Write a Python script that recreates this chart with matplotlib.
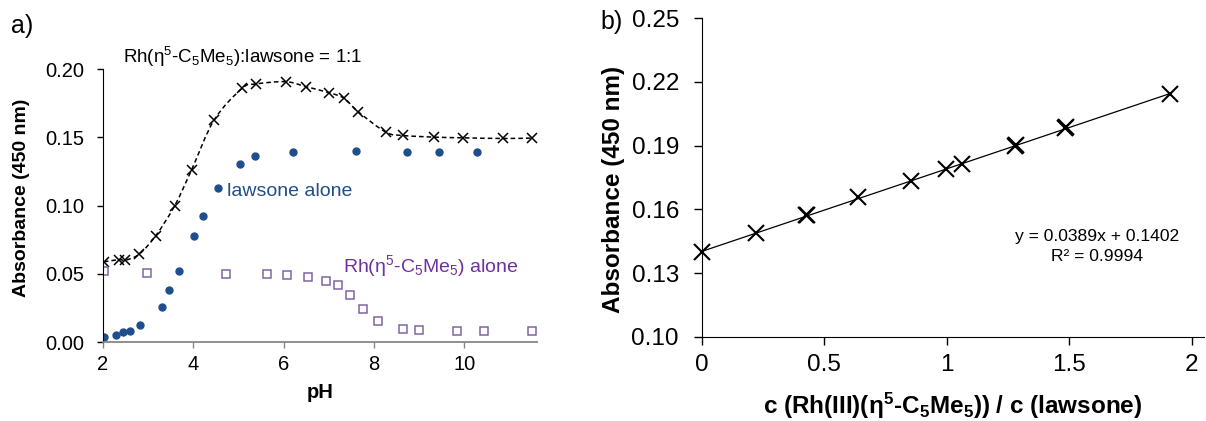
from matplotlib import pyplot as plt
from matplotlib.path import Path
from matplotlib.patches import PathPatch
import numpy as np

plt.rcParams['font.family'] = ['Liberation Sans', 'DejaVu Sans']
plt.rcParams['mathtext.fontset'] = 'custom'
plt.rcParams['mathtext.rm'] = 'Liberation Sans'
plt.rcParams['mathtext.it'] = 'Liberation Sans:italic'
plt.rcParams['mathtext.bf'] = 'Liberation Sans:bold'

# a) 1:1 混合物
ph_mix = [2.02, 2.36, 2.49, 2.80, 3.17, 3.59, 3.96, 4.46, 5.08, 5.38, 6.05,
          6.50, 7.01, 7.34, 7.65, 8.26, 8.64, 9.34, 9.97, 10.85, 11.49]
abs_mix = [0.0587, 0.0604, 0.0599, 0.0643, 0.078, 0.100, 0.126, 0.1626, 0.1858, 0.189, 0.1907,
           0.187, 0.1826, 0.1785, 0.1687, 0.1538, 0.1513, 0.1501, 0.1496, 0.1491, 0.1494]

# lawsone alone
ph_law = [2.02, 2.28, 2.45, 2.60, 2.82, 3.30, 3.47, 3.68, 4.02, 4.22, 4.54,
          5.03, 5.37, 6.21, 7.61, 8.73, 9.44, 10.28]
abs_law = [0.0039, 0.0051, 0.0071, 0.0081, 0.0127, 0.0259, 0.0379, 0.0521, 0.0775, 0.0924, 0.1125,
           0.1303, 0.1364, 0.1394, 0.1396, 0.1394, 0.1389, 0.1394]

# Rh alone
ph_rh = [2.02, 2.97, 4.72, 5.63, 6.07, 6.55, 6.94, 7.21, 7.48, 7.76, 8.10,
         8.64, 8.99, 9.83, 10.43, 11.49]
abs_rh = [0.0518, 0.0509, 0.0501, 0.0501, 0.0494, 0.0474, 0.0445, 0.0421, 0.0345, 0.0240, 0.0152,
          0.0098, 0.0090, 0.0081, 0.0078, 0.0081]

# b) 滴定
ratio = [0, 0.219, 0.425, 0.429, 0.639, 0.855, 0.998, 1.062, 1.278, 1.282, 1.484, 1.488, 1.911]
abs_ratio = [0.1401, 0.149, 0.1572, 0.1574, 0.166, 0.1733, 0.179, 0.1814, 0.1899, 0.1901, 0.1984, 0.1986, 0.2142]
slope, intercept = 0.0389, 0.1402


def smooth_path(x, y):
    # 类似 Excel 的平滑线 (Catmull-Rom -> Bezier)
    p = np.column_stack([x, y])
    verts = [p[0]]
    codes = [Path.MOVETO]
    n = len(p)
    for i in range(n - 1):
        p0 = p[i - 1] if i > 0 else p[i]
        p3 = p[i + 2] if i + 2 < n else p[i + 1]
        c1 = p[i] + (p[i + 1] - p0) / 6
        c2 = p[i + 1] - (p3 - p[i]) / 6
        verts += [c1, c2, p[i + 1]]
        codes += [Path.CURVE4] * 3
    return Path(verts, codes)


fig = plt.figure(figsize=(12.06, 4.21), dpi=100)
ax1 = fig.add_axes([0.0854, 0.1876, 0.3595, 0.6485])
ax2 = fig.add_axes([0.582, 0.2002, 0.4163, 0.7563])

# ---- a ----
ax1.add_patch(PathPatch(smooth_path(ph_mix, abs_mix), fill=False, ls=(0, (3, 2)), lw=1.1, color='black'))
ax1.plot(ph_mix, abs_mix, 'x', color='black', ms=6.8, mew=1.1)
ax1.plot(ph_law, abs_law, 'o', color='#1F4E8C', ms=5)
ax1.plot(ph_rh, abs_rh, 's', mfc='white', mec='#8064A2', ms=5.8, mew=1.1)
ax1.set_xlim(2, 11.6)
ax1.set_ylim(0, 0.2)
ax1.set_xticks([2, 4, 6, 8, 10])
ax1.set_yticks([0, 0.05, 0.10, 0.15, 0.20])
ax1.set_yticklabels(['0.00', '0.05', '0.10', '0.15', '0.20'])
ax1.set_xlabel('pH', fontsize=14.5, fontweight='bold')
ax1.set_ylabel('Absorbance (450 nm)', fontsize=14, fontweight='bold')
ax1.xaxis.set_label_coords(0.5, -0.15)
ax1.yaxis.set_label_coords(-0.168, 0.529)
ax1.spines['top'].set_visible(False)
ax1.spines['right'].set_visible(False)
ax1.spines['bottom'].set_color('#868686')
ax1.spines['bottom'].set_linewidth(1.3)
ax1.tick_params(labelsize=14.5, length=4.5, width=1)
ax1.tick_params(axis='x', color='#868686', pad=5)
ax1.tick_params(axis='y', pad=9)
ax1.text(2.44, 0.2086, r'Rh(η$^5$-C$_5$Me$_5$):lawsone = 1:1', fontsize=13.5, va='center')
ax1.text(4.75, 0.110, 'lawsone alone', fontsize=14, color='#1F4E8C', va='center')
ax1.text(7.31, 0.0559, r'Rh(η$^5$-C$_5$Me$_5$) alone', fontsize=14, color='#7030A0', va='center')
fig.text(0.009, 0.938, 'a)', fontsize=18, va='center')

# ---- b ----
xx = np.array([0, max(ratio)])
ax2.plot(xx, slope * xx + intercept, color='black', lw=0.9)
ax2.plot(ratio, abs_ratio, 'x', color='black', ms=11.5, mew=1.5, clip_on=False)
ax2.set_xlim(0, 2.05)
ax2.set_ylim(0.10, 0.25)
ax2.set_xticks([0, 0.5, 1, 1.5, 2])
ax2.set_xticklabels(['0', '0.5', '1', '1.5', '2'])
ax2.set_yticks([0.10, 0.13, 0.16, 0.19, 0.22, 0.25])
ax2.set_yticklabels(['0.10', '0.13', '0.16', '0.19', '0.22', '0.25'])
ax2.set_xlabel(r'c (Rh(III)(η$^\mathbf{5}$-C$_\mathbf{5}$Me$_\mathbf{5}$)) / c (lawsone)',
               fontsize=17.5, fontweight='bold')
ax2.set_ylabel('Absorbance (450 nm)', fontsize=17.5, fontweight='bold')
ax2.xaxis.set_label_coords(0.5, -0.17)
ax2.yaxis.set_label_coords(-0.153, 0.461)
ax2.spines['top'].set_visible(False)
ax2.spines['right'].set_visible(False)
ax2.tick_params(labelsize=17.5, length=5.5, width=1)
ax2.tick_params(axis='x', pad=7)
ax2.tick_params(axis='y', pad=11)
ax2.text(1.612, 0.1471, 'y = 0.0389x + 0.1402', fontsize=12.6, ha='center', va='center')
ax2.text(1.612, 0.1380, 'R² = 0.9994', fontsize=12.6, ha='center', va='center')
fig.text(0.4975, 0.948, 'b)', fontsize=18, va='center')

plt.savefig('out.png', dpi=100)
